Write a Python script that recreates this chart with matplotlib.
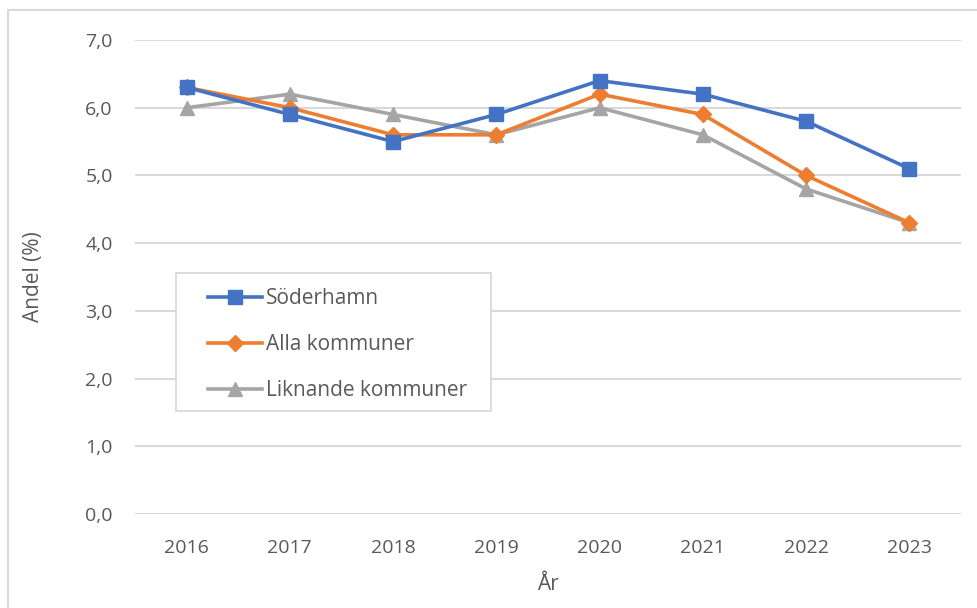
import matplotlib
matplotlib.use("Agg")
import matplotlib.pyplot as plt
from matplotlib.patches import Rectangle

years = ["2016", "2017", "2018", "2019", "2020", "2021", "2022", "2023"]
soderhamn = [6.3, 5.9, 5.5, 5.9, 6.4, 6.2, 5.8, 5.1]
alla = [6.3, 6.0, 5.6, 5.6, 6.2, 5.9, 5.0, 4.3]
liknande = [6.0, 6.2, 5.9, 5.6, 6.0, 5.6, 4.8, 4.3]
yticks = [0, 1, 2, 3, 4, 5, 6, 7]

plt.rcParams['font.family'] = ['Open Sans', 'DejaVu Sans']
W, H = 978, 608
fig = plt.figure(figsize=(W/100, H/100), dpi=100)
fig.patches.append(Rectangle((8/W, -0.1), 1.2, 1.1 - 10/H, transform=fig.transFigure,
                             fill=False, edgecolor='#D9D9D9', linewidth=1.5))
ax = fig.add_axes([135/W, 1 - 514/H, (961-135)/W, (514-40)/H])

x = list(range(len(years)))
ax.plot(x, liknande, color='#A5A5A5', lw=2.6, marker='^', ms=10.5, label='Liknande kommuner', zorder=3)
ax.plot(x, alla, color='#ED7D31', lw=2.6, marker='D', ms=8.5, label='Alla kommuner', zorder=4)
ax.plot(x, soderhamn, color='#4472C4', lw=2.6, marker='s', ms=10, label='Söderhamn', zorder=5)
handles, labels = ax.get_legend_handles_labels()
order = [2, 1, 0]

ax.set_xlim(-0.5, len(years) - 0.5)
ax.set_ylim(0, 7)
ax.set_yticks(yticks)
ax.set_yticklabels([f"{v:.1f}".replace('.', ',') for v in yticks])
ax.set_xticks(x)
ax.set_xticklabels(years)
ax.grid(axis='y', color='#D9D9D9', lw=1.5)
ax.set_axisbelow(True)
for s in ax.spines.values():
    s.set_visible(False)
ax.tick_params(length=0, labelsize=14, colors='#595959', pad=18)
ax.tick_params(axis='y', pad=16)
ax.set_ylabel('Andel (%)', fontsize=15, color='#595959', labelpad=30)
ax.set_xlabel('År', fontsize=15, color='#595959', labelpad=12)

# legend frame drawn as its own box
fig.patches.append(Rectangle((176/W, 1 - 411/H), (491-176)/W, (411-273)/H, transform=fig.transFigure,
                             facecolor='white', edgecolor='#D9D9D9', linewidth=1.3, zorder=6))
leg = fig.legend([handles[i] for i in order], [labels[i] for i in order],
                 loc='upper left', bbox_to_anchor=(208/W, 1 - 288/H),
                 fontsize=15, frameon=False,
                 handlelength=2.6, labelspacing=1.2,
                 borderpad=0.0, handletextpad=0.2, borderaxespad=0)
leg.set_zorder(7)
for t in leg.get_texts():
    t.set_color('#595959')

fig.savefig('out.png', dpi=100)
